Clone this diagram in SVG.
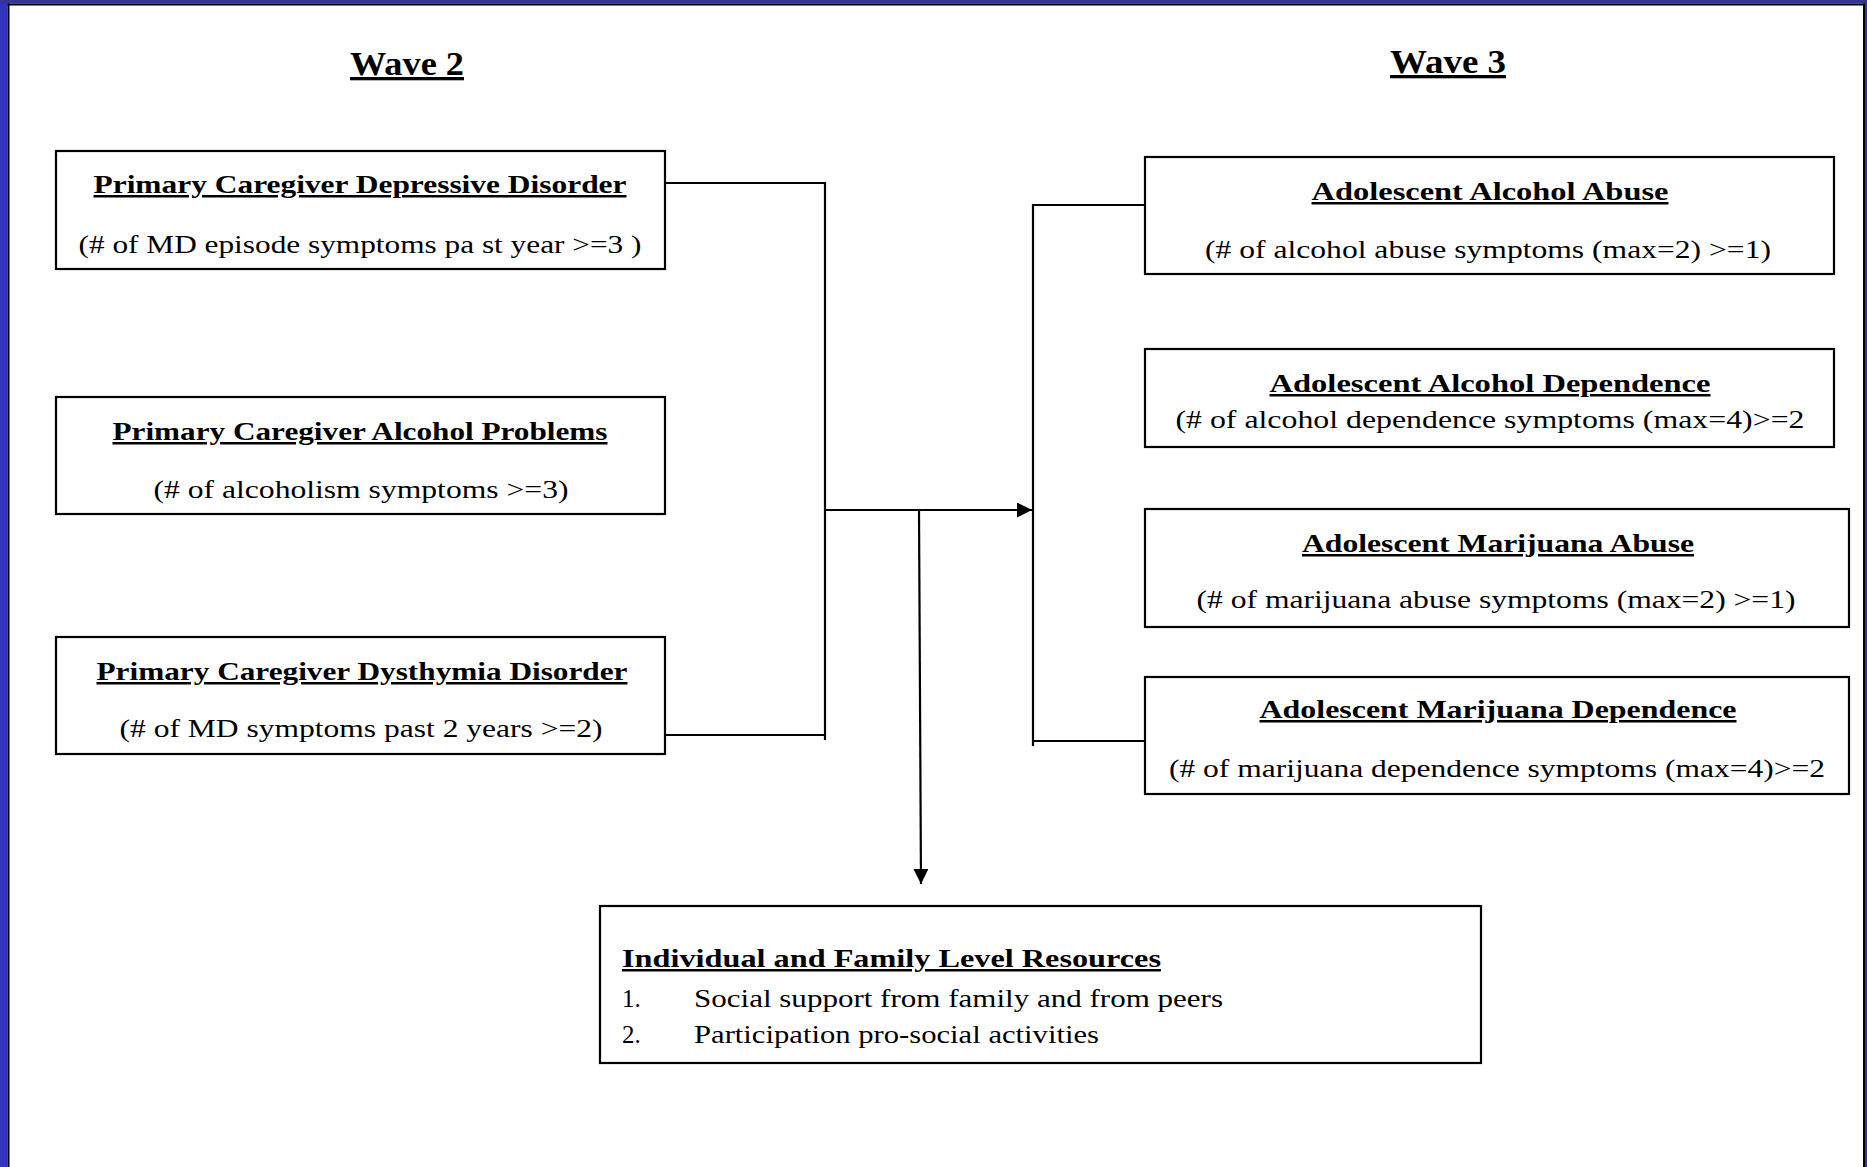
<svg xmlns="http://www.w3.org/2000/svg" width="1867" height="1167" viewBox="0 0 1867 1167">
<style>
.box{fill:#fff;stroke:#000;stroke-width:2.2}
.t{font-family:"Liberation Serif","Times New Roman",serif;font-weight:bold;font-size:25px;fill:#000;text-anchor:middle;text-decoration:underline}
.s{font-family:"Liberation Serif","Times New Roman",serif;font-size:25px;fill:#000;text-anchor:middle}
.w{font-family:"Liberation Serif","Times New Roman",serif;font-weight:bold;font-size:33px;fill:#000;text-anchor:middle;text-decoration:underline}
.l{font-family:"Liberation Serif","Times New Roman",serif;font-size:25px;fill:#000}
.c{fill:none;stroke:#000;stroke-width:2.2}
</style>
<defs>
<marker id="ah" markerUnits="userSpaceOnUse" markerWidth="16" markerHeight="16" refX="15" refY="7.5" orient="auto">
<path d="M0,0 L15,7.5 L0,15 z" fill="#000"/>
</marker>
</defs>
<rect x="0" y="0" width="1867" height="1167" fill="#fff"/>
<g id="frame">
<rect x="0" y="0" width="7.5" height="1167" fill="#3333C4"/>
<rect x="0" y="0" width="1867" height="3.5" fill="#333399"/>
<rect x="7.5" y="3.5" width="2" height="1164" fill="#000"/>
<rect x="7.5" y="3.5" width="1858" height="2" fill="#000"/>
<rect x="1863" y="3.5" width="2" height="1164" fill="#000"/>
<rect x="1865" y="0" width="2" height="1167" fill="#333399"/>
</g>
<g id="headers">
<text class="w" x="407" y="75" textLength="114" lengthAdjust="spacingAndGlyphs">Wave 2</text>
<text class="w" x="1448" y="73" textLength="116" lengthAdjust="spacingAndGlyphs">Wave 3</text>
</g>
<g id="connectors">
<polyline class="c" points="665,183 825,183 825,740"/>
<line class="c" x1="665" y1="735" x2="825" y2="735"/>
<line class="c" x1="825" y1="510" x2="1032" y2="510" marker-end="url(#ah)"/>
<line class="c" x1="919" y1="510" x2="921" y2="884" marker-end="url(#ah)"/>
<polyline class="c" points="1145,205 1033,205 1033,746"/>
<line class="c" x1="1033" y1="741" x2="1145" y2="741"/>
</g>
<g id="pc-depressive">
<rect class="box" x="56" y="151" width="609" height="118"/>
<text class="t" x="360" y="193" textLength="533" lengthAdjust="spacingAndGlyphs">Primary Caregiver Depressive Disorder</text>
<text class="s" x="360" y="253" textLength="563" lengthAdjust="spacingAndGlyphs">(# of MD episode symptoms pa st year &gt;=3 )</text>
</g>
<g id="pc-alcohol">
<rect class="box" x="56" y="397" width="609" height="117"/>
<text class="t" x="360" y="440" textLength="495" lengthAdjust="spacingAndGlyphs">Primary Caregiver Alcohol Problems</text>
<text class="s" x="361" y="498" textLength="415" lengthAdjust="spacingAndGlyphs">(# of alcoholism symptoms &gt;=3)</text>
</g>
<g id="pc-dysthymia">
<rect class="box" x="56" y="637" width="609" height="117"/>
<text class="t" x="362" y="680" textLength="531" lengthAdjust="spacingAndGlyphs">Primary Caregiver Dysthymia Disorder</text>
<text class="s" x="361" y="737" textLength="483" lengthAdjust="spacingAndGlyphs">(# of MD symptoms past 2 years &gt;=2)</text>
</g>
<g id="adol-alcohol-abuse">
<rect class="box" x="1145" y="157" width="689" height="117"/>
<text class="t" x="1490" y="200" textLength="357" lengthAdjust="spacingAndGlyphs">Adolescent Alcohol Abuse</text>
<text class="s" x="1488" y="258" textLength="566" lengthAdjust="spacingAndGlyphs">(# of alcohol abuse symptoms (max=2) &gt;=1)</text>
</g>
<g id="adol-alcohol-dependence">
<rect class="box" x="1145" y="349" width="689" height="98"/>
<text class="t" x="1490" y="392" textLength="441" lengthAdjust="spacingAndGlyphs">Adolescent Alcohol Dependence</text>
<text class="s" x="1490" y="428" textLength="629" lengthAdjust="spacingAndGlyphs">(# of alcohol dependence symptoms (max=4)&gt;=2</text>
</g>
<g id="adol-marijuana-abuse">
<rect class="box" x="1145" y="509" width="704" height="118"/>
<text class="t" x="1498" y="552" textLength="392" lengthAdjust="spacingAndGlyphs">Adolescent Marijuana Abuse</text>
<text class="s" x="1496" y="608" textLength="599" lengthAdjust="spacingAndGlyphs">(# of marijuana abuse symptoms (max=2) &gt;=1)</text>
</g>
<g id="adol-marijuana-dependence">
<rect class="box" x="1145" y="677" width="704" height="117"/>
<text class="t" x="1498" y="718" textLength="477" lengthAdjust="spacingAndGlyphs">Adolescent Marijuana Dependence</text>
<text class="s" x="1497" y="777" textLength="656" lengthAdjust="spacingAndGlyphs">(# of marijuana dependence symptoms (max=4)&gt;=2</text>
</g>
<g id="resources">
<rect class="box" x="600" y="906" width="881" height="157"/>
<text class="t" x="622" y="967" text-anchor="start" style="text-anchor:start" textLength="539" lengthAdjust="spacingAndGlyphs">Individual and Family Level  Resources</text>
<text class="l" x="622" y="1007">1.</text>
<text class="l" x="694" y="1007" textLength="529" lengthAdjust="spacingAndGlyphs">Social support from family and from peers</text>
<text class="l" x="622" y="1043">2.</text>
<text class="l" x="694" y="1043" textLength="405" lengthAdjust="spacingAndGlyphs">Participation pro-social activities</text>
</g>
</svg>
